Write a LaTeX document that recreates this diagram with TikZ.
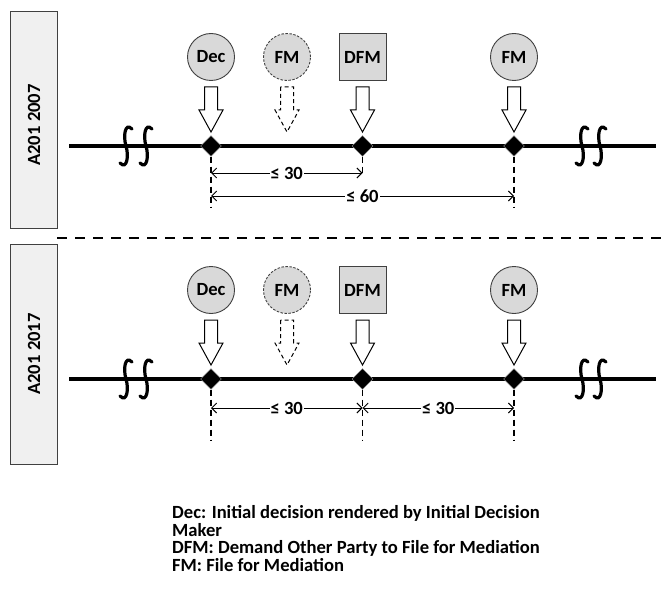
\documentclass[tikz,border=0pt]{standalone}
\usepackage{fontspec}
\setmainfont{Carlito}
\usetikzlibrary{shapes.geometric,arrows.meta}

\definecolor{evfill}{HTML}{D9D9D9}
\definecolor{evline}{HTML}{404040}
\definecolor{panelfill}{HTML}{F0F0F0}

\tikzset{
  lbl/.style={font=\bfseries\fontsize{18.6}{20}\selectfont},
  panel/.style={draw=evline, fill=panelfill, line width=1.2pt, inner sep=0pt},
  paneltext/.style={lbl, rotate=90},
  event/.style={circle, draw=evline, fill=evfill, line width=0.9pt,
    minimum size=47pt, inner sep=0pt, lbl},
  eventopt/.style={event, dash pattern=on 2.5pt off 1.5pt},
  demand/.style={event, rectangle},
  milestone/.style={diamond, fill=black, draw=gray!70, line width=0.4pt,
    minimum size=21pt, inner sep=0pt},
  timeline/.style={line width=3.5pt},
  breakmark/.style={draw, line width=3.2pt, line cap=round},
  hollow/.style={draw=black, fill=white, line width=1pt, line join=miter},
  hollowopt/.style={hollow, dash pattern=on 4pt off 3pt},
  guide/.style={line width=1.5pt, dash pattern=on 6pt off 4pt},
  span/.style={line width=0.9pt,
    {Straight Barb[length=5pt,width=10pt]}-{Straight Barb[length=5pt,width=10pt]}},
  spanlabel/.style={fill=white, inner sep=1pt, lbl},
  divider/.style={line width=1.8pt, dash pattern=on 10pt off 8pt},
  % hollow block arrow pointing down, top of the shaft at the origin
  blockarrow/.pic={
    \path[pic actions] (-6.5,0) -- (-6.5,23) -- (-12,23) -- (0,45)
      -- (12,23) -- (6.5,23) -- (6.5,0) -- cycle;
  },
  % one stroke of the "time gap" symbol on the timeline
  breakS/.pic={
    \path[pic actions] (6,-17) .. controls (-1,-24) and (-3,-10) .. (0,0)
      .. controls (3,10) and (1,24) .. (-6,17);
  },
}

\begin{document}
\begin{tikzpicture}[x=1pt, y=-1pt]
\useasboundingbox (0,0) rectangle (668,588);

%% ---------------- A201 2007 ----------------
\node[panel, minimum width=47pt, minimum height=217pt, anchor=north west] (panelA) at (10,11) {};
\node[paneltext] (panelAtxt) at (34,125) {A201 2007};

\node[event]    (decA)  at (211,57)   {Dec};
\node[eventopt] (fmoA)  at (287,57)   {FM};
\node[demand]   (dfmA)  at (362.5,57) {DFM};
\node[event]    (fmA)   at (514,57)   {FM};

\pic[hollow]    at (211,87)   {blockarrow};
\pic[hollowopt] at (287,87)   {blockarrow};
\pic[hollow]    at (362.5,87) {blockarrow};
\pic[hollow]    at (514,87)   {blockarrow};

\coordinate (tAs) at (69,146);
\coordinate (tAe) at (656,146);
\draw[timeline] (tAs) -- (tAe);
\pic[breakmark] at (126,146) {breakS};
\pic[breakmark] at (146,146) {breakS};
\pic[breakmark] at (582,146) {breakS};
\pic[breakmark] at (600,146) {breakS};

\node[milestone] (mA1) at (211,146)   {};
\node[milestone] (mA2) at (362.5,146) {};
\node[milestone] (mA3) at (514,146)   {};

\coordinate (gA1) at (211,207);
\coordinate (gA2) at (362.5,176);
\coordinate (gA3) at (514,207);
\draw[guide] (mA1.south) -- (gA1);
\draw[guide] (mA2.south) -- (gA2);
\draw[guide] (mA3.south) -- (gA3);

\coordinate (sA1) at (211,173);
\coordinate (sA2) at (362.5,173);
\coordinate (sA3) at (211,196);
\coordinate (sA4) at (514,196);
\draw[span] (sA1) -- node[spanlabel] (lA30) {≤ 30} (sA2);
\draw[span] (sA3) -- node[spanlabel] (lA60) {≤ 60} (sA4);

%% ---------------- divider ----------------
\coordinate (dv1) at (57,238);
\coordinate (dv2) at (668,238);
\draw[divider] (dv1) -- (dv2);

%% ---------------- A201 2017 ----------------
\node[panel, minimum width=47pt, minimum height=220pt, anchor=north west] (panelB) at (10,244) {};
\node[paneltext] (panelBtxt) at (34,354) {A201 2017};

\node[event]    (decB)  at (211,290)   {Dec};
\node[eventopt] (fmoB)  at (287,290)   {FM};
\node[demand]   (dfmB)  at (362.5,290) {DFM};
\node[event]    (fmB)   at (514,290)   {FM};

\pic[hollow]    at (211,320)   {blockarrow};
\pic[hollowopt] at (287,320)   {blockarrow};
\pic[hollow]    at (362.5,320) {blockarrow};
\pic[hollow]    at (514,320)   {blockarrow};

\coordinate (tBs) at (69,379);
\coordinate (tBe) at (656,379);
\draw[timeline] (tBs) -- (tBe);
\pic[breakmark] at (126,379) {breakS};
\pic[breakmark] at (146,379) {breakS};
\pic[breakmark] at (582,379) {breakS};
\pic[breakmark] at (600,379) {breakS};

\node[milestone] (mB1) at (211,379)   {};
\node[milestone] (mB2) at (362.5,379) {};
\node[milestone] (mB3) at (514,379)   {};

\coordinate (gB1) at (211,440);
\coordinate (gB2) at (362.5,440);
\coordinate (gB3) at (514,440);
\draw[guide] (mB1.south) -- (gB1);
\draw[guide] (mB2.south) -- (gB2);
\draw[guide] (mB3.south) -- (gB3);

\coordinate (sB1) at (211,408);
\coordinate (sB2) at (362.5,408);
\coordinate (sB3) at (514,408);
\draw[span] (sB1) -- node[spanlabel] (lB30a) {≤ 30} (sB2);
\draw[span] (sB2) -- node[spanlabel] (lB30b) {≤ 30} (sB3);

%% ---------------- legend ----------------
\node[anchor=base west, align=left, inner sep=0pt,
      font=\bfseries\fontsize{18.6}{17.4}\selectfont] (legend) at (172,571)
  {Dec: Initial decision rendered by Initial Decision\\
   Maker\\
   DFM: Demand Other Party to File for Mediation\\
   FM: File for Mediation};
\end{tikzpicture}
\end{document}
